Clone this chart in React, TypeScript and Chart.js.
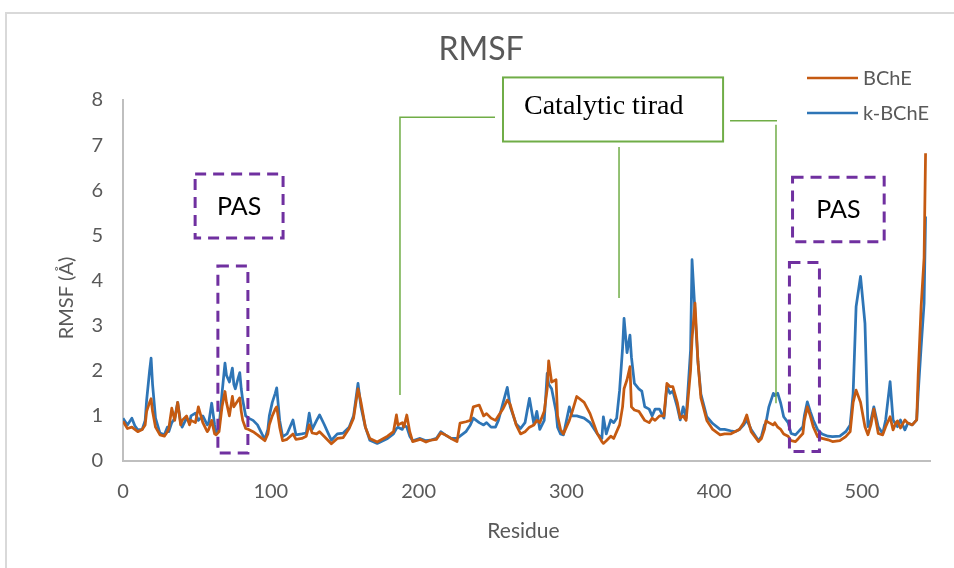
import React, { useEffect, useRef } from 'react';
import { Chart, registerables } from 'chart.js';

Chart.register(...registerables);

// ---------- data ----------
const residues = [
  0, 3, 6, 8, 10, 13, 15, 16, 18, 19, 20, 22, 25, 28, 30, 31, 33, 35, 37, 39, 40, 43, 45, 46, 49, 51, 54, 57, 58, 60,
  62, 63, 65, 67, 69, 70, 72, 74, 75, 76, 78, 79, 80, 81, 83, 85, 88, 91, 94, 96, 98, 99, 101, 103, 104, 106, 108, 111, 115, 117,
  121, 124, 126, 128, 131, 133, 136, 139, 141, 145, 149, 153, 156, 159, 161, 164, 167, 172, 179, 183, 185, 186, 189, 190, 192, 194, 196, 201, 205, 208,
  212, 215, 218, 222, 226, 228, 232, 235, 237, 241, 244, 246, 249, 252, 254, 257, 260, 262, 266, 269, 272, 275, 278, 280, 282, 285, 287, 288, 290, 293,
  294, 296, 298, 302, 304, 307, 312, 316, 321, 324, 325, 327, 330, 332, 334, 336, 338, 339, 341, 343, 344, 346, 349, 351, 353, 356, 358, 360, 363, 366,
  368, 370, 372, 375, 377, 379, 381, 384, 385, 387, 389, 391, 395, 399, 404, 407, 411, 414, 417, 420, 422, 425, 430, 432, 434, 435, 437, 440, 441, 443,
  445, 447, 450, 452, 455, 457, 460, 461, 463, 465, 467, 470, 473, 477, 480, 485, 489, 492, 494, 496, 499, 502, 504, 506, 508, 511, 514, 516, 519, 521,
  523, 524, 526, 529, 531, 534, 537, 538, 540, 542, 543,
];

const kBChE = [
  0.95, 0.8, 0.95, 0.78, 0.69, 0.7, 0.9, 1.35, 2.0, 2.28, 1.7, 0.95, 0.62, 0.58, 0.75, 0.65, 0.85, 0.95, 1.3, 0.85, 0.75, 0.95, 0.85, 1.0, 1.06, 0.9, 1.0, 0.8, 0.85, 1.28,
  0.8, 0.6, 0.75, 1.5, 2.17, 1.9, 1.75, 2.06, 1.7, 1.6, 1.85, 1.96, 1.6, 1.35, 1.0, 0.95, 0.9, 0.8, 0.6, 0.48, 0.7, 1.0, 1.3, 1.5, 1.62, 0.9, 0.54, 0.6, 0.91, 0.58,
  0.6, 0.62, 1.06, 0.7, 0.9, 1.02, 0.82, 0.6, 0.46, 0.6, 0.62, 0.75, 1.0, 1.72, 1.2, 0.75, 0.46, 0.39, 0.5, 0.6, 0.72, 0.75, 0.7, 0.8, 0.75, 0.55, 0.45, 0.5, 0.45, 0.46,
  0.5, 0.65, 0.58, 0.5, 0.5, 0.55, 0.65, 0.8, 0.95, 0.85, 0.8, 0.85, 0.75, 0.75, 0.9, 1.27, 1.63, 1.2, 0.82, 0.72, 0.85, 1.39, 0.82, 1.1, 0.7, 0.9, 1.94, 1.7, 1.6, 1.1,
  0.75, 0.6, 0.58, 1.2, 1.0, 1.0, 0.95, 0.85, 0.6, 0.5, 0.98, 0.6, 0.91, 0.85, 0.95, 1.57, 2.5, 3.16, 2.4, 2.79, 2.3, 1.72, 1.6, 1.55, 1.2, 1.15, 1.0, 1.15, 1.15, 0.95,
  1.65, 1.5, 1.55, 1.2, 0.91, 1.2, 0.95, 2.46, 4.46, 3.3, 2.2, 1.48, 0.98, 0.83, 0.7, 0.7, 0.67, 0.65, 0.7, 0.8, 0.91, 0.7, 0.45, 0.55, 0.8, 0.84, 1.2, 1.5, 1.45, 1.5,
  1.28, 0.98, 0.85, 0.61, 0.58, 0.65, 0.76, 1.0, 1.31, 1.1, 0.91, 0.69, 0.6, 0.55, 0.54, 0.55, 0.65, 0.8, 1.5, 3.42, 4.09, 3.05, 0.76, 0.9, 1.2, 0.76, 0.61, 0.91, 1.76, 0.91,
  0.8, 0.76, 0.91, 0.69, 0.84, 0.8, 0.91, 1.5, 2.53, 3.5, 5.42,
];

const BChE = [
  0.88, 0.72, 0.75, 0.7, 0.65, 0.7, 0.8, 1.1, 1.3, 1.38, 1.1, 0.75, 0.58, 0.55, 0.65, 0.72, 1.17, 0.9, 1.3, 0.8, 0.9, 1.0, 0.8, 0.9, 0.85, 1.2, 0.85, 0.65, 0.7, 0.9,
  0.6, 0.58, 0.65, 1.2, 1.54, 1.3, 1.0, 1.43, 1.2, 1.25, 1.35, 1.4, 1.1, 0.9, 0.72, 0.7, 0.65, 0.58, 0.5, 0.45, 0.6, 0.8, 1.0, 1.15, 1.2, 0.75, 0.45, 0.48, 0.6, 0.48,
  0.5, 0.55, 0.8, 0.62, 0.6, 0.65, 0.55, 0.45, 0.38, 0.5, 0.52, 0.72, 0.95, 1.6, 1.3, 0.75, 0.5, 0.42, 0.55, 0.65, 1.02, 0.8, 0.85, 0.75, 1.02, 0.65, 0.43, 0.48, 0.42, 0.46,
  0.48, 0.62, 0.58, 0.5, 0.43, 0.84, 0.87, 0.9, 1.2, 1.24, 1.0, 1.05, 0.95, 0.9, 1.0, 1.15, 1.35, 1.25, 0.8, 0.6, 0.65, 0.75, 0.8, 0.9, 0.85, 1.1, 1.6, 2.22, 1.75, 1.8,
  1.0, 0.7, 0.6, 0.9, 1.1, 1.43, 1.3, 1.05, 0.6, 0.43, 0.39, 0.45, 0.55, 0.5, 0.65, 0.8, 1.2, 1.6, 1.8, 2.09, 1.2, 1.13, 1.1, 1.0, 0.9, 0.85, 0.95, 0.9, 1.0, 1.0,
  1.72, 1.65, 1.65, 1.3, 0.95, 1.0, 0.9, 2.0, 2.7, 3.5, 2.2, 1.4, 0.9, 0.7, 0.58, 0.6, 0.6, 0.65, 0.7, 0.85, 1.02, 0.65, 0.43, 0.5, 0.7, 0.89, 0.85, 0.8, 0.85, 0.75,
  0.7, 0.6, 0.55, 0.45, 0.43, 0.5, 0.61, 0.9, 1.2, 1.0, 0.76, 0.54, 0.5, 0.47, 0.43, 0.45, 0.54, 0.65, 1.3, 1.57, 1.3, 0.76, 0.58, 0.8, 1.15, 0.61, 0.58, 0.76, 0.98, 0.69,
  0.85, 0.89, 0.73, 0.91, 0.84, 0.8, 0.91, 1.9, 3.42, 4.5, 6.82,
];

const seriesNames = ['BChE', 'k-BChE'];
const seriesColors = ['#C55A11', '#2E75B6'];
const xTickValues = [0, 100, 200, 300, 400, 500];
const xMax = 546;
const yMax = 8;

// annotation shapes, in data units (residue, RMSF)
const pasLabelBoxes = [
  { x0: 48.8, x1: 108.3, y0: 4.94, y1: 6.36 },
  { x0: 453, x1: 515, y0: 4.86, y1: 6.29 },
];
const pasRegionBoxes = [
  { x0: 64.2, x1: 84.5, y0: 0.18, y1: 4.32 },
  { x0: 450.9, x1: 471.2, y0: 0.21, y1: 4.4 },
];
const triadBox = { x0: 257.1, x1: 406, y0: 7.08, y1: 8.5, text: 'Catalytic tirad' };
const triadLeaders = [
  [[251.7, 7.62], [187.4, 7.62], [187.4, 1.46]],
  [[335.6, 6.96], [335.6, 3.61]],
  [[410.7, 7.54], [442.5, 7.54]],
  [[441.8, 7.45], [441.8, 1.28]],
];

const FONT = 'Lato, "Open Sans", sans-serif';
const GREY = '#595959';

const overlayPlugin = {
  id: 'overlay',
  afterDraw(chart: any) {
    const { ctx, scales } = chart;
    const xs = scales.x;
    const ys = scales.y;
    const X = (v: number) => xs.getPixelForValue(v);
    const Y = (v: number) => ys.getPixelForValue(v);
    ctx.save();

    // title
    ctx.fillStyle = GREY;
    ctx.font = `32px ${FONT}`;
    ctx.textAlign = 'center';
    ctx.textBaseline = 'middle';
    ctx.fillText('RMSF', 481, 50);

    // axis titles
    ctx.font = `21px ${FONT}`;
    ctx.fillText('Residue', (xs.left + xs.right) / 2 - 3, 531);
    ctx.save();
    ctx.translate(67, 298);
    ctx.rotate(-Math.PI / 2);
    ctx.font = `20px ${FONT}`;
    ctx.fillText('RMSF (Å)', 0, 0);
    ctx.restore();

    // legend
    const ds = chart.data.datasets;
    ds.forEach((d: any, i: number) => {
      const ly = 78 + i * 35;
      ctx.strokeStyle = d.borderColor;
      ctx.lineWidth = 2.5;
      ctx.beginPath();
      ctx.moveTo(807, ly);
      ctx.lineTo(858, ly);
      ctx.stroke();
      ctx.fillStyle = GREY;
      ctx.font = `20px ${FONT}`;
      ctx.textAlign = 'left';
      ctx.textBaseline = 'middle';
      ctx.fillText(d.label, 863, ly + 1);
    });

    // purple dashed boxes
    ctx.strokeStyle = '#7030A0';
    ctx.lineWidth = 3;
    ctx.setLineDash([11, 7]);
    [...pasLabelBoxes, ...pasRegionBoxes].forEach((b) => {
      const l = X(b.x0), r = X(b.x1), t = Y(b.y1), bt = Y(b.y0);
      ctx.strokeRect(l, t, r - l, bt - t);
    });
    ctx.setLineDash([]);
    ctx.fillStyle = '#000000';
    ctx.font = `25px ${FONT}`;
    ctx.textAlign = 'center';
    ctx.textBaseline = 'middle';
    pasLabelBoxes.forEach((b) => {
      ctx.fillText('PAS', (X(b.x0) + X(b.x1)) / 2, (Y(b.y0) + Y(b.y1)) / 2 + 1);
    });

    // green callout
    ctx.strokeStyle = '#70AD47';
    ctx.lineWidth = 1.5;
    triadLeaders.forEach((pts) => {
      ctx.beginPath();
      pts.forEach(([a, b], k) => {
        if (k === 0) ctx.moveTo(X(a), Y(b));
        else ctx.lineTo(X(a), Y(b));
      });
      ctx.stroke();
    });
    const l = X(triadBox.x0), r = X(triadBox.x1), t = Y(triadBox.y1), bt = Y(triadBox.y0);
    ctx.fillStyle = '#ffffff';
    ctx.fillRect(l, t, r - l, bt - t);
    ctx.lineWidth = 2;
    ctx.strokeRect(l, t, r - l, bt - t);
    ctx.fillStyle = '#000000';
    ctx.font = '28px "Liberation Serif", "Times New Roman", serif';
    ctx.textAlign = 'left';
    ctx.textBaseline = 'alphabetic';
    ctx.fillText(triadBox.text, l + 21, t + 37);

    ctx.restore();
  },
};

export default function App() {
  const canvasRef = useRef<HTMLCanvasElement | null>(null);

  useEffect(() => {
    const canvas = canvasRef.current;
    if (!canvas) return;
    const chart = new Chart(canvas, {
      type: 'line',
      data: {
        datasets: [
          {
            label: seriesNames[0],
            data: residues.map((r, i) => ({ x: r, y: BChE[i] })),
            borderColor: seriesColors[0],
            backgroundColor: seriesColors[0],
            borderWidth: 2.75,
            borderJoinStyle: 'round',
            pointRadius: 0,
            tension: 0,
          },
          {
            label: seriesNames[1],
            data: residues.map((r, i) => ({ x: r, y: kBChE[i] })),
            borderColor: seriesColors[1],
            backgroundColor: seriesColors[1],
            borderWidth: 2.75,
            borderJoinStyle: 'round',
            pointRadius: 0,
            tension: 0,
          },
        ],
      },
      options: {
        animation: false,
        responsive: false,
        devicePixelRatio: 1,
        layout: { padding: { top: 100, right: 24, left: 0, bottom: 0 } },
        plugins: {
          legend: { display: false },
          title: { display: false },
          tooltip: { enabled: false },
        },
        scales: {
          x: {
            type: 'linear',
            min: 0,
            max: xMax,
            afterFit: (s: any) => {
              s.height = 107;
            },
            afterBuildTicks: (s: any) => {
              s.ticks = xTickValues.map((v) => ({ value: v }));
            },
            ticks: {
              color: GREY,
              font: { family: FONT, size: 20 },
              padding: 19,
              maxRotation: 0,
              autoSkip: false,
            },
            grid: { display: false, drawTicks: false },
            border: { display: true, color: '#BFBFBF', width: 2 },
          },
          y: {
            type: 'linear',
            min: 0,
            max: yMax,
            afterFit: (s: any) => {
              s.width = 123;
            },
            ticks: {
              stepSize: 1,
              color: GREY,
              font: { family: FONT, size: 20 },
              padding: 20,
            },
            grid: { display: false, drawTicks: false },
            border: { display: true, color: '#BFBFBF', width: 2 },
          },
        },
      },
      plugins: [overlayPlugin],
    });
    return () => chart.destroy();
  }, []);

  return (
    <div
      style={{
        position: 'fixed',
        left: 0,
        top: 0,
        width: 954,
        height: 568,
        overflow: 'hidden',
        background: '#ffffff',
      }}
    >
      <div
        style={{
          position: 'absolute',
          left: 5,
          top: 12,
          width: 1000,
          height: 700,
          border: '2px solid #D9D9D9',
          boxSizing: 'border-box',
        }}
      />
      <canvas
        ref={canvasRef}
        width={954}
        height={568}
        style={{ position: 'absolute', left: 0, top: 0, width: 954, height: 568 }}
      />
    </div>
  );
}
